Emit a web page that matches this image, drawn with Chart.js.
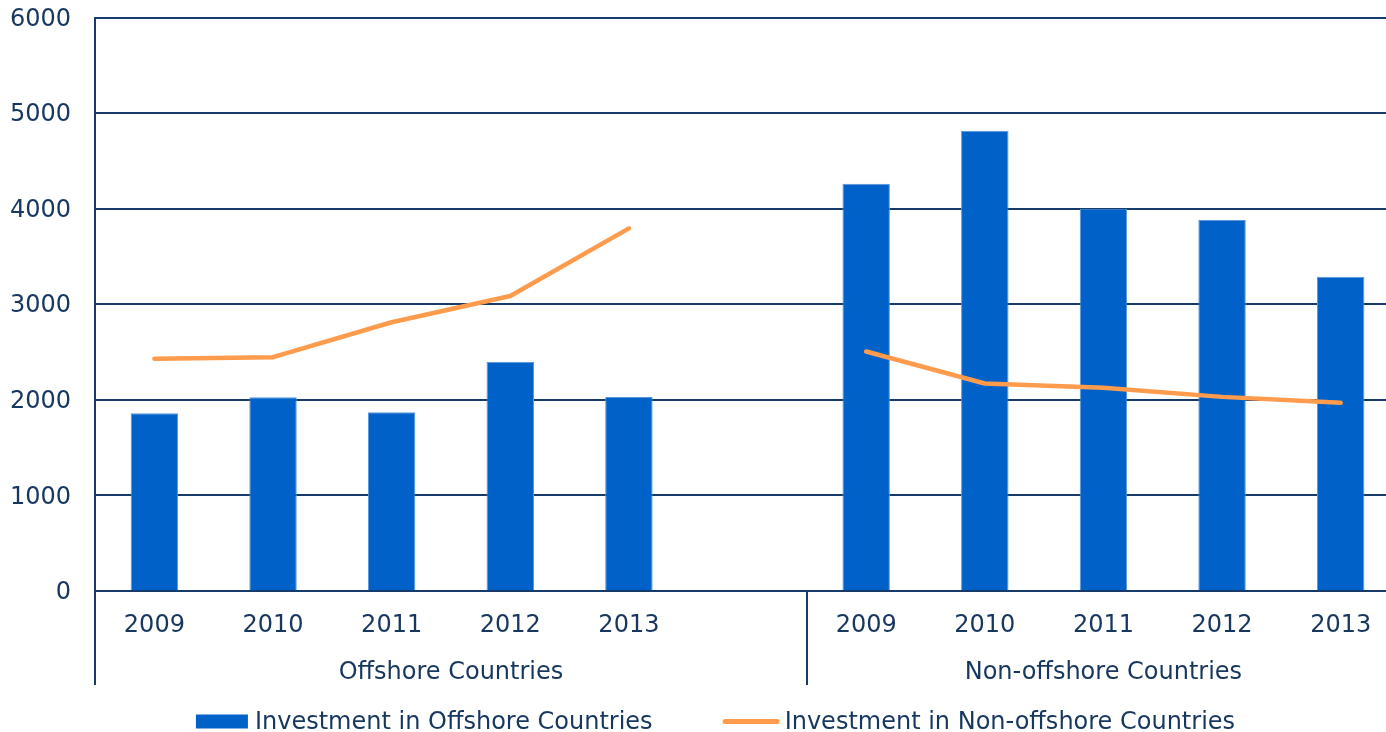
<!DOCTYPE html>
<html>
<head>
<meta charset="utf-8">
<title>Investment in Offshore and Non-offshore Countries</title>
<script src="https://cdn.jsdelivr.net/npm/chart.js@4.4.1/dist/chart.umd.min.js"></script>
<style>
  html, body { margin: 0; padding: 0; background: #ffffff; overflow: hidden; }
  #wrap { position: relative; width: 1386px; height: 732px; overflow: hidden; }
  #chart { position: absolute; left: 0; top: 0; }
</style>
</head>
<body>
<div id="wrap"><canvas id="chart" width="1431" height="732"></canvas></div>
<script>
// ---- data ----
const years = ['2009', '2010', '2011', '2012', '2013'];
const categories = [...years, '', ...years];          // blank slot separates the two groups
const groupNames = ['Offshore Countries', 'Non-offshore Countries'];
const groupSlots = [6, 5];                              // category slots per group (first one holds the spacer)
const barValues  = [1861, 2028, 1871, 2397, 2031, null, 4261, 4815, 4000, 3882, 3289];
const lineValues = [2429, 2446, 2812, 3087, 3794, null, 2506, 2171, 2126, 2031, 1969];
const seriesNames = ['Investment in Offshore Countries', 'Investment in Non-offshore Countries'];
const yMin = 0, yMax = 6000, yStep = 1000;

// ---- styles ----
const navy = '#17375e';
const gridNavy = '#163a69';
const barBlue = '#0061c8';
const barEdge = '#5a97dc';
const lineOrange = '#ff9b4c';
const fontFamily = '"DejaVu Sans", Verdana, sans-serif';
const xAxisHeight = 94;                                 // year row + group-name row
const groupLabelOffset = 81.5;                          // group names, below the baseline

// group centres and boundaries, in category-index units
const groupCenters = [];
const groupBounds = [-0.5];
{
  let start = -0.5;
  groupSlots.forEach(n => {
    groupCenters.push(start + n / 2);
    start += n;
    groupBounds.push(start);
  });
}

// second label row (group names) and the separators through both rows
const groupAxisRow = {
  id: 'groupAxisRow',
  afterDraw(chart) {
    const xs = chart.scales.x;
    const top = chart.chartArea.bottom;
    const bottom = xs.bottom;
    const ctx = chart.ctx;
    ctx.save();
    ctx.strokeStyle = gridNavy;
    ctx.lineWidth = 2;
    groupBounds.forEach(v => {
      const x = Math.round(xs.getPixelForValue(v));
      ctx.beginPath();
      ctx.moveTo(x, top);
      ctx.lineTo(x, bottom);
      ctx.stroke();
    });
    ctx.font = '24px ' + fontFamily;
    ctx.fillStyle = navy;
    ctx.textAlign = 'center';
    ctx.textBaseline = 'middle';
    const y = top + groupLabelOffset;
    groupCenters.forEach((v, i) => {
      ctx.fillText(groupNames[i], xs.getPixelForValue(v), y);
    });
    ctx.restore();
  }
};

// legend row under the axes
const seriesLegend = {
  id: 'seriesLegend',
  afterDraw(chart) {
    const ctx = chart.ctx;
    const ds = chart.data.datasets;
    const swatchW = [52, 57];
    const textGap = [7, 5];
    const itemGap = 70;
    ctx.save();
    ctx.font = '24px ' + fontFamily;
    ctx.textBaseline = 'middle';
    ctx.textAlign = 'left';
    const widths = ds.map((d, i) => swatchW[i] + textGap[i] + ctx.measureText(d.label).width);
    const total = widths.reduce((a, b) => a + b, 0) + itemGap * (ds.length - 1);
    let x = chart.width / 2 - total / 2;
    const y = chart.height - 10.5;
    ds.forEach((d, i) => {
      if (d.type === 'line') {
        ctx.strokeStyle = d.borderColor;
        ctx.lineWidth = 5;
        ctx.lineCap = 'round';
        ctx.beginPath();
        ctx.moveTo(x + 2.5, y);
        ctx.lineTo(x + swatchW[i] - 2.5, y);
        ctx.stroke();
      } else {
        ctx.fillStyle = d.backgroundColor;
        ctx.fillRect(x, y - 7, swatchW[i], 14);
      }
      ctx.fillStyle = navy;
      ctx.fillText(d.label, x + swatchW[i] + textGap[i], y + 1);
      x += widths[i] + itemGap;
    });
    ctx.restore();
  }
};

Chart.defaults.font.family = fontFamily;
Chart.defaults.font.size = 24;
Chart.defaults.color = navy;

new Chart(document.getElementById('chart'), {
  type: 'bar',
  data: {
    labels: categories,
    datasets: [
      {
        type: 'bar',
        label: seriesNames[0],
        data: barValues,
        backgroundColor: barBlue,
        borderColor: barEdge,
        borderWidth: 1,
        barPercentage: 0.4,
        categoryPercentage: 1,
        order: 2
      },
      {
        type: 'line',
        label: seriesNames[1],
        data: lineValues,
        borderColor: lineOrange,
        backgroundColor: lineOrange,
        borderWidth: 4.5,
        borderCapStyle: 'round',
        borderJoinStyle: 'round',
        pointRadius: 0,
        pointHoverRadius: 0,
        tension: 0,
        spanGaps: false,
        fill: false,
        order: 1
      }
    ]
  },
  options: {
    responsive: false,
    animation: false,
    devicePixelRatio: 1,
    layout: { padding: { top: 0, left: 10, right: 31, bottom: 47 } },
    plugins: {
      legend: { display: false },
      tooltip: { enabled: false },
      title: { display: false }
    },
    scales: {
      x: {
        type: 'category',
        position: 'bottom',
        offset: true,
        grid: { display: false, drawTicks: false },
        border: { display: true, color: gridNavy, width: 2 },
        ticks: { padding: 20, maxRotation: 0, minRotation: 0, autoSkip: false, color: navy },
        afterFit(scale) {
          scale.height = xAxisHeight;
        }
      },
      y: {
        min: yMin,
        max: yMax,
        grid: {
          color: gridNavy,
          lineWidth: 2,
          drawTicks: true,
          tickLength: 24,
          tickColor: 'rgba(0,0,0,0)'
        },
        border: { display: true, color: gridNavy, width: 2 },
        ticks: {
          stepSize: yStep,
          padding: 0,
          labelOffset: 2,
          color: navy,
          font: { size: 24, lineHeight: 1.46 },
          callback: v => String(v)
        }
      }
    }
  },
  plugins: [groupAxisRow, seriesLegend]
});
</script>
</body>
</html>
